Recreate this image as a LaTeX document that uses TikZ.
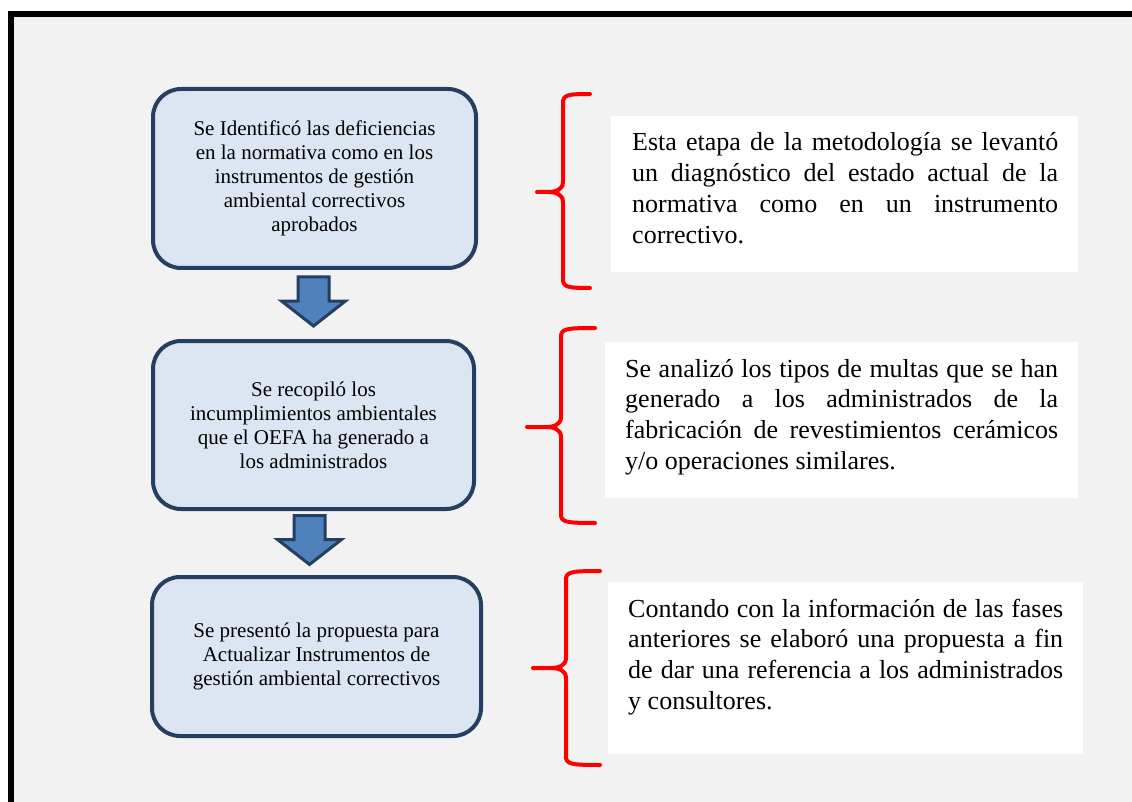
\documentclass[tikz,border=0pt]{standalone}
\usepackage{fontspec}
\setmainfont{Liberation Serif}
\usetikzlibrary{calc}
\definecolor{bgc}{HTML}{F2F2F2}
\definecolor{boxfill}{HTML}{DCE6F2}
\definecolor{boxline}{HTML}{243F60}
\definecolor{arrfill}{HTML}{4F81BD}
\tolerance=10000
\newcommand\mybrace[6]{% xv, top, bot, armx, tipx, mid
  \draw[bracestyle] (#4,#2) .. controls (#1+4,#2) and (#1,#2+1) .. (#1,#2+9)
    -- (#1,#6-10) .. controls (#1,#6-2) and (#1-8,#6) .. (#1-14,#6) -- (#5,#6)
    -- (#1-14,#6) .. controls (#1-8,#6) and (#1,#6+2) .. (#1,#6+10)
    -- (#1,#3-9) .. controls (#1,#3-1) and (#1+4,#3) .. (#4,#3);}
\begin{document}
\begin{tikzpicture}[x=1pt,y=-1pt,
  stepbox/.style={draw=boxline, line width=4pt, fill=boxfill, rounded corners=28pt,
    align=center, inner sep=0pt, font=\fontsize{21}{24}\selectfont},
  whitebox/.style={fill=white, draw=none, inner sep=0pt},
  desc/.style={inner sep=0pt, align=justify, anchor=base west,
    font=\fontsize{26}{30.7}\selectfont},
  barrow/.style={draw=boxline, fill=arrfill, line width=3pt, line join=miter},
  bracestyle/.style={draw=red, line width=4pt, line cap=round, line join=round}]
\useasboundingbox (0,0) rectangle (1132,802);
\clip (0,0) rectangle (1132,802);
% frame
\draw[line width=6pt, fill=bgc] (10.5,14) rectangle (1160,830);

% process boxes
\node[stepbox, minimum width=323pt, minimum height=179pt] (b1) at (314.5,178.5)
  {Se Identificó las deficiencias\\en la normativa como en los\\instrumentos de gestión\\ambiental correctivos\\aprobados};
\node[stepbox, minimum width=321pt, minimum height=168pt] (b2) at (313.5,425)
  {Se recopiló los\\incumplimientos ambientales\\que el OEFA ha generado a\\los administrados};
\node[stepbox, minimum width=329pt, minimum height=159pt] (b3) at (316.5,656.5)
  {Se presentó la propuesta para\\Actualizar Instrumentos de\\gestión ambiental correctivos};

% block arrows
\path (b1.south) ++(-1,7) coordinate (a1);
\path (b2.south) ++(-4,4.5) coordinate (a2);
\draw[barrow] (a1) ++(-15.5,0) -- ++(31,0) -- ++(0,24) -- ++(16.5,0) -- ++(-32,25) -- ++(-32,-25) -- ++(16.5,0) -- cycle;
\draw[barrow] (a2) ++(-15.5,0) -- ++(31,0) -- ++(0,24) -- ++(16.5,0) -- ++(-32,25) -- ++(-32,-25) -- ++(16.5,0) -- cycle;

% white description boxes
\node[whitebox, minimum width=467pt, minimum height=156pt] (w1) at (844.5,194) {};
\node[whitebox, minimum width=473pt, minimum height=156pt] (w2) at (841.5,420) {};
\node[whitebox, minimum width=475pt, minimum height=172pt] (w3) at (845.5,668) {};

\node[desc, text width=426pt] (t1) at (632,151)
  {Esta etapa de la metodología se levantó\linebreak un diagnóstico del estado actual de la\linebreak normativa como en un instrumento\linebreak correctivo.};
\node[desc, text width=433pt] (t2) at (625,377)
  {Se analizó los tipos de multas que se han\linebreak generado a los administrados de la\linebreak fabricación de revestimientos cerámicos\linebreak y/o operaciones similares.};
\node[desc, text width=435pt] (t3) at (628,617)
  {Contando con la información de las fases\linebreak anteriores se elaboró una propuesta a fin\linebreak de dar una referencia a los administrados\linebreak y consultores.};

% braces
\mybrace{563}{94}{288}{590}{537}{192}
\mybrace{561}{328}{523}{595}{527}{427}
\mybrace{566}{571}{765}{600}{533}{668}
\end{tikzpicture}
\end{document}
